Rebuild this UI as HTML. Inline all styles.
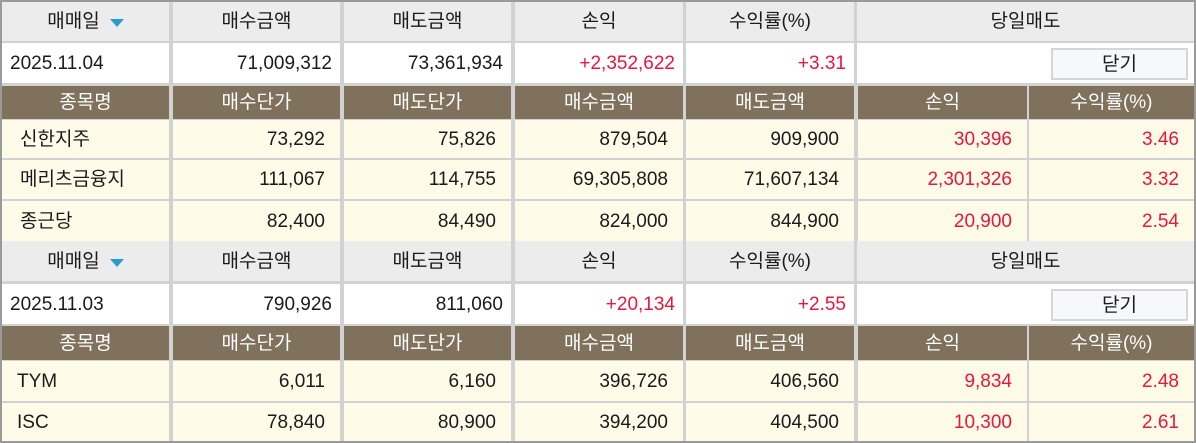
<!DOCTYPE html>
<html><head><meta charset="utf-8"><style>
*{margin:0;padding:0;box-sizing:border-box}
body{width:1196px;height:443px;background:#d2d2d2;position:relative;overflow:hidden;font-family:"Liberation Sans","Noto Sans CJK KR",sans-serif;font-size:19px;color:#1a1a1a}
#frame{position:absolute;left:0;top:0;width:1196px;height:443px;border:2px solid #9a9a9a;z-index:5;pointer-events:none}
.c{position:absolute;display:flex;align-items:center;white-space:nowrap;line-height:1}
.h{background:#ececec;justify-content:center;font-size:19px}
.w{background:#fff;justify-content:flex-end;padding-right:8px}
.b{background:#7f715b;color:#fff;justify-content:center;font-size:19px}
.y{background:#fffbe9;justify-content:flex-end;padding-right:15px}
.l{justify-content:flex-start;padding-left:8px}
.n{padding-left:18px}
.r{color:#e8173c}
.tri{display:inline-block;width:0;height:0;border-left:7px solid transparent;border-right:7px solid transparent;border-top:8px solid #2a9ad0;margin-left:10px;margin-top:3px}
.btn{position:absolute;background:#f6f8fb;border:2px solid #d6d6d6;display:flex;align-items:center;justify-content:center;font-size:19px;line-height:1}
</style></head><body>
<div id="frame"></div>

<div class="c h" style="left:2px;top:2px;width:167px;height:39px">매매일<span class="tri"></span></div>
<div class="c h" style="left:173px;top:2px;width:167px;height:39px">매수금액</div>
<div class="c h" style="left:344px;top:2px;width:167px;height:39px">매도금액</div>
<div class="c h" style="left:515px;top:2px;width:168px;height:39px">손익</div>
<div class="c h" style="left:686px;top:2px;width:168px;height:39px">수익률(%)</div>
<div class="c h" style="left:857px;top:2px;width:337px;height:39px">당일매도</div>

<div class="c w l" style="left:2px;top:43px;width:167px;height:40px">2025.11.04</div>
<div class="c w" style="left:173px;top:43px;width:167px;height:40px">71,009,312</div>
<div class="c w" style="left:344px;top:43px;width:167px;height:40px">73,361,934</div>
<div class="c w r" style="left:515px;top:43px;width:168px;height:40px">+2,352,622</div>
<div class="c w r" style="left:686px;top:43px;width:168px;height:40px">+3.31</div>
<div class="c w" style="left:857px;top:43px;width:337px;height:40px"></div>
<div class="btn" style="left:1051px;top:48px;width:137px;height:32px">닫기</div>

<div class="c b" style="left:2px;top:86px;width:167px;height:33px">종목명</div>
<div class="c b" style="left:173px;top:86px;width:167px;height:33px">매수단가</div>
<div class="c b" style="left:344px;top:86px;width:167px;height:33px">매도단가</div>
<div class="c b" style="left:515px;top:86px;width:168px;height:33px">매수금액</div>
<div class="c b" style="left:686px;top:86px;width:168px;height:33px">매도금액</div>
<div class="c b" style="left:858px;top:86px;width:169px;height:33px">손익</div>
<div class="c b" style="left:1029px;top:86px;width:165px;height:33px">수익률(%)</div>

<div class="c y l n" style="left:2px;top:120px;width:167px;height:38px">신한지주</div>
<div class="c y" style="left:173px;top:120px;width:167px;height:38px">73,292</div>
<div class="c y" style="left:344px;top:120px;width:167px;height:38px">75,826</div>
<div class="c y" style="left:515px;top:120px;width:168px;height:38px">879,504</div>
<div class="c y" style="left:686px;top:120px;width:168px;height:38px">909,900</div>
<div class="c y r" style="left:858px;top:120px;width:169px;height:38px">30,396</div>
<div class="c y r" style="left:1029px;top:120px;width:165px;height:38px">3.46</div>

<div class="c y l n" style="left:2px;top:160px;width:167px;height:39px">메리츠금융지</div>
<div class="c y" style="left:173px;top:160px;width:167px;height:39px">111,067</div>
<div class="c y" style="left:344px;top:160px;width:167px;height:39px">114,755</div>
<div class="c y" style="left:515px;top:160px;width:168px;height:39px">69,305,808</div>
<div class="c y" style="left:686px;top:160px;width:168px;height:39px">71,607,134</div>
<div class="c y r" style="left:858px;top:160px;width:169px;height:39px">2,301,326</div>
<div class="c y r" style="left:1029px;top:160px;width:165px;height:39px">3.32</div>

<div class="c y l n" style="left:2px;top:201px;width:167px;height:40px">종근당</div>
<div class="c y" style="left:173px;top:201px;width:167px;height:40px">82,400</div>
<div class="c y" style="left:344px;top:201px;width:167px;height:40px">84,490</div>
<div class="c y" style="left:515px;top:201px;width:168px;height:40px">824,000</div>
<div class="c y" style="left:686px;top:201px;width:168px;height:40px">844,900</div>
<div class="c y r" style="left:858px;top:201px;width:169px;height:40px">20,900</div>
<div class="c y r" style="left:1029px;top:201px;width:165px;height:40px">2.54</div>

<div class="c h" style="left:2px;top:241px;width:167px;height:40px">매매일<span class="tri"></span></div>
<div class="c h" style="left:173px;top:241px;width:167px;height:40px">매수금액</div>
<div class="c h" style="left:344px;top:241px;width:167px;height:40px">매도금액</div>
<div class="c h" style="left:515px;top:241px;width:168px;height:40px">손익</div>
<div class="c h" style="left:686px;top:241px;width:168px;height:40px">수익률(%)</div>
<div class="c h" style="left:857px;top:241px;width:337px;height:40px">당일매도</div>

<div class="c w l" style="left:2px;top:284px;width:167px;height:40px">2025.11.03</div>
<div class="c w" style="left:173px;top:284px;width:167px;height:40px">790,926</div>
<div class="c w" style="left:344px;top:284px;width:167px;height:40px">811,060</div>
<div class="c w r" style="left:515px;top:284px;width:168px;height:40px">+20,134</div>
<div class="c w r" style="left:686px;top:284px;width:168px;height:40px">+2.55</div>
<div class="c w" style="left:857px;top:284px;width:337px;height:40px"></div>
<div class="btn" style="left:1051px;top:289px;width:137px;height:32px">닫기</div>

<div class="c b" style="left:2px;top:326px;width:167px;height:34px">종목명</div>
<div class="c b" style="left:173px;top:326px;width:167px;height:34px">매수단가</div>
<div class="c b" style="left:344px;top:326px;width:167px;height:34px">매도단가</div>
<div class="c b" style="left:515px;top:326px;width:168px;height:34px">매수금액</div>
<div class="c b" style="left:686px;top:326px;width:168px;height:34px">매도금액</div>
<div class="c b" style="left:858px;top:326px;width:169px;height:34px">손익</div>
<div class="c b" style="left:1029px;top:326px;width:165px;height:34px">수익률(%)</div>

<div class="c y l" style="left:2px;top:361px;width:167px;height:40px;padding-left:15px">TYM</div>
<div class="c y" style="left:173px;top:361px;width:167px;height:40px">6,011</div>
<div class="c y" style="left:344px;top:361px;width:167px;height:40px">6,160</div>
<div class="c y" style="left:515px;top:361px;width:168px;height:40px">396,726</div>
<div class="c y" style="left:686px;top:361px;width:168px;height:40px">406,560</div>
<div class="c y r" style="left:858px;top:361px;width:169px;height:40px">9,834</div>
<div class="c y r" style="left:1029px;top:361px;width:165px;height:40px">2.48</div>

<div class="c y l" style="left:2px;top:403px;width:167px;height:38px;padding-left:15px">ISC</div>
<div class="c y" style="left:173px;top:403px;width:167px;height:38px">78,840</div>
<div class="c y" style="left:344px;top:403px;width:167px;height:38px">80,900</div>
<div class="c y" style="left:515px;top:403px;width:168px;height:38px">394,200</div>
<div class="c y" style="left:686px;top:403px;width:168px;height:38px">404,500</div>
<div class="c y r" style="left:858px;top:403px;width:169px;height:38px">10,300</div>
<div class="c y r" style="left:1029px;top:403px;width:165px;height:38px">2.61</div>
</body></html>
